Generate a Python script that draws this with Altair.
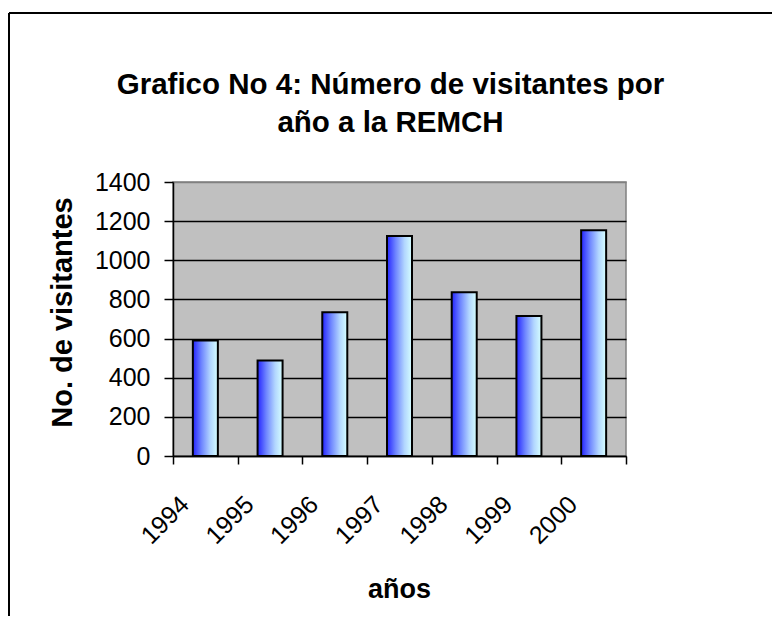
import altair as alt
import pandas as pd

years = ["1994", "1995", "1996", "1997", "1998", "1999", "2000"]
visitors = [590, 488, 735, 1124, 837, 715, 1153]
y_ticks = [0, 200, 400, 600, 800, 1000, 1200, 1400]

title_lines = ["Grafico No 4: Número de visitantes por", "año a la REMCH"]
x_title = "años"
y_title = "No. de visitantes"

df = pd.DataFrame({"year": years, "visitors": visitors})
FONT = "Liberation Sans"

grad = alt.Gradient(
    gradient="linear",
    stops=[
        alt.GradientStop(color="#2424ff", offset=0),
        alt.GradientStop(color="#6f86ff", offset=0.35),
        alt.GradientStop(color="#b2d6ff", offset=0.7),
        alt.GradientStop(color="#d6ffff", offset=1),
    ],
    x1=0, x2=1, y1=0, y2=0,
)

bars = alt.Chart(df).mark_bar(color=grad, stroke="black", strokeWidth=2, size=25).encode(
    x=alt.X(
        "year:O",
        sort=years,
        scale=alt.Scale(paddingInner=0, paddingOuter=0),
        axis=alt.Axis(
            title=x_title,
            titleFont=FONT,
            titleFontSize=27,
            titleFontWeight="bold",
            titleColor="black",
            titleX=226,
            titleY=141,
            titleAlign="center",
            titleBaseline="alphabetic",
            labelAngle=-45,
            labelAlign="right",
            labelBaseline="middle",
            labelFont=FONT,
            labelFontSize=25,
            labelColor="black",
            labelPadding=36,
            labelOffset=-21,
            labelOverlap=False,
            labelBound=False,
            tickBand="extent",
            tickSize=8,
            tickColor="black",
            tickWidth=1.5,
            domainColor="black",
            domainWidth=1.5,
            grid=False,
        ),
    ),
    y=alt.Y(
        "visitors:Q",
        scale=alt.Scale(domain=[0, 1400], nice=False),
        axis=alt.Axis(
            values=y_ticks,
            format="d",
            title=y_title,
            titleFont=FONT,
            titleFontSize=29,
            titleFontWeight="bold",
            titleColor="black",
            titleX=-111,
            titleY=130,
            titleAlign="center",
            titleBaseline="middle",
            labelFont=FONT,
            labelFontSize=25,
            labelColor="black",
            labelPadding=14,
            tickSize=9,
            tickColor="black",
            tickWidth=1.5,
            domainColor="black",
            domainWidth=1.5,
            grid=True,
            gridColor={"condition": {"test": "datum.value === 1400", "value": "#808080"}, "value": "black"},
            gridWidth=1.5,
        ),
    ),
)

frame_data = alt.Data(values=[{"k": 1}])
frame_v = alt.Chart(frame_data).mark_rule(color="black", strokeWidth=2).encode(
    x=alt.value(-164), y=alt.value(-169), y2=alt.value(440)
)
frame_h = alt.Chart(frame_data).mark_rule(color="black", strokeWidth=2).encode(
    x=alt.value(-164), x2=alt.value(600), y=alt.value(-169)
)

chart = (
    alt.layer(frame_v, frame_h, bars)
    .properties(
        width=453,
        height=274,
        autosize=alt.AutoSizeParams(type="none"),
        padding={"left": 165, "top": 174, "right": 146, "bottom": 160},
        title=alt.TitleParams(
            text=title_lines,
            font=FONT,
            fontSize=29.5,
            fontWeight="bold",
            color="black",
            anchor="middle",
            frame="group",
            dx=-9,
            offset=-126,
            lineHeight=38,
        ),
    )
    .configure(background="white")
    .configure_view(fill="#c0c0c0", stroke="#808080", strokeWidth=1.5)
)

chart.save("out.html", embed_options={"renderer": "svg", "actions": False})
